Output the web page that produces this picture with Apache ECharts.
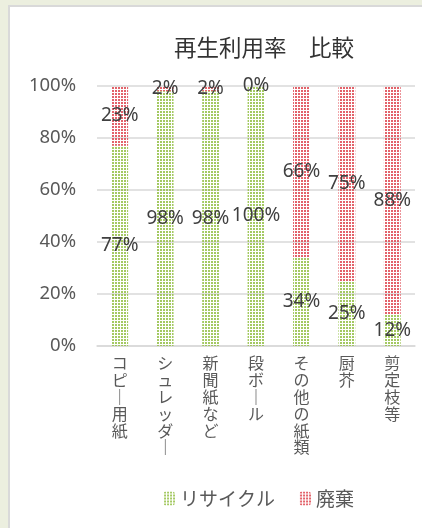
<!DOCTYPE html>
<html><head><meta charset="utf-8">
<script src="https://cdn.jsdelivr.net/npm/echarts@6/dist/echarts.min.js"></script>
<style>html,body{margin:0;padding:0;background:#fff}#c{width:422px;height:528px}</style>
</head><body><div id="c"></div>
<script>
const categories = ['コピー用紙','シュレッダー','新聞紙など','段ボール','その他の紙類','厨芥','剪定枝等'];
const recycle = [77, 98, 98, 100, 34, 25, 12];
const waste = [23, 2, 2, 0, 66, 75, 88];
const seriesNames = ['リサイクル','廃棄'];
const yTicks = [0, 20, 40, 60, 80, 100];

function makePattern(color){
  const c = document.createElement('canvas');
  c.width = 3; c.height = 3;
  const ctx = c.getContext('2d');
  ctx.fillStyle = color;
  ctx.globalAlpha = 0.85;
  ctx.fillRect(1, 0, 2, 2);
  return {image: c, repeat: 'repeat'};
}
const greenPat = makePattern('#94c047');
const redPat = makePattern('#de4650');

function vert(s){
  return s.split('').map(ch => ch === 'ー' ? '｜' : ch).join('\n');
}

const chart = echarts.init(document.getElementById('c'), null, {renderer:'canvas'});
const FONT = '"Noto Sans CJK JP", "Noto Sans", sans-serif';
const NUMFONT = '"Noto Sans", "Noto Sans CJK JP", sans-serif';
const labelCommon = {
  show: true, position: 'inside', color: '#404040', fontSize: 19,
  fontFamily: NUMFONT, formatter: p => p.value + '%'
};
chart.setOption({
  backgroundColor: '#fff',
  graphic: [
    {type:'rect', silent:true, z:-10, shape:{x:0,y:0,width:422,height:528}, style:{fill:'#ecefdf'}},
    {type:'rect', silent:true, z:-9, shape:{x:9,y:6,width:430,height:540}, style:{fill:'#ffffff', stroke:'#d9d9d9', lineWidth:2}}
  ],
  title: {
    text: '再生利用率　比較', left: 259, top: 31, textAlign: 'center',
    textStyle: {fontSize: 22.5, fontWeight: 'normal', color: '#333', fontFamily: FONT}
  },
  legend: {
    data: seriesNames, left: 158, top: 484, itemWidth: 12, itemHeight: 14, itemGap: 24,
    textStyle: {fontSize: 19, color: '#595959', fontFamily: FONT}
  },
  grid: {left: 97, right: 7, top: 86, bottom: 182},
  xAxis: {
    type: 'category', data: categories,
    axisLine: {show: true, lineStyle: {color: '#d9d9d9', width: 1.5}},
    axisTick: {show: false},
    axisLabel: {
      interval: 0, margin: 9, formatter: v => vert(v), color: '#595959',
      fontSize: 16, lineHeight: 16.8, fontFamily: FONT, verticalAlign: 'top'
    }
  },
  yAxis: {
    type: 'value', min: 0, max: 100, interval: 20,
    axisLabel: {formatter: v => yTicks.includes(v) ? v + '%' : '', color: '#595959', fontSize: 18.5, fontFamily: NUMFONT, margin: 21},
    splitLine: {lineStyle: {color: '#d9d9d9', width: 1.5}},
    axisLine: {show: false}, axisTick: {show: false}
  },
  series: [
    {name: seriesNames[0], type: 'bar', stack: 's', data: recycle, barWidth: '37%',
     itemStyle: {color: greenPat}, label: labelCommon},
    {name: seriesNames[1], type: 'bar', stack: 's', data: waste, barWidth: '37%',
     itemStyle: {color: redPat}, label: labelCommon}
  ]
});
</script></body></html>
